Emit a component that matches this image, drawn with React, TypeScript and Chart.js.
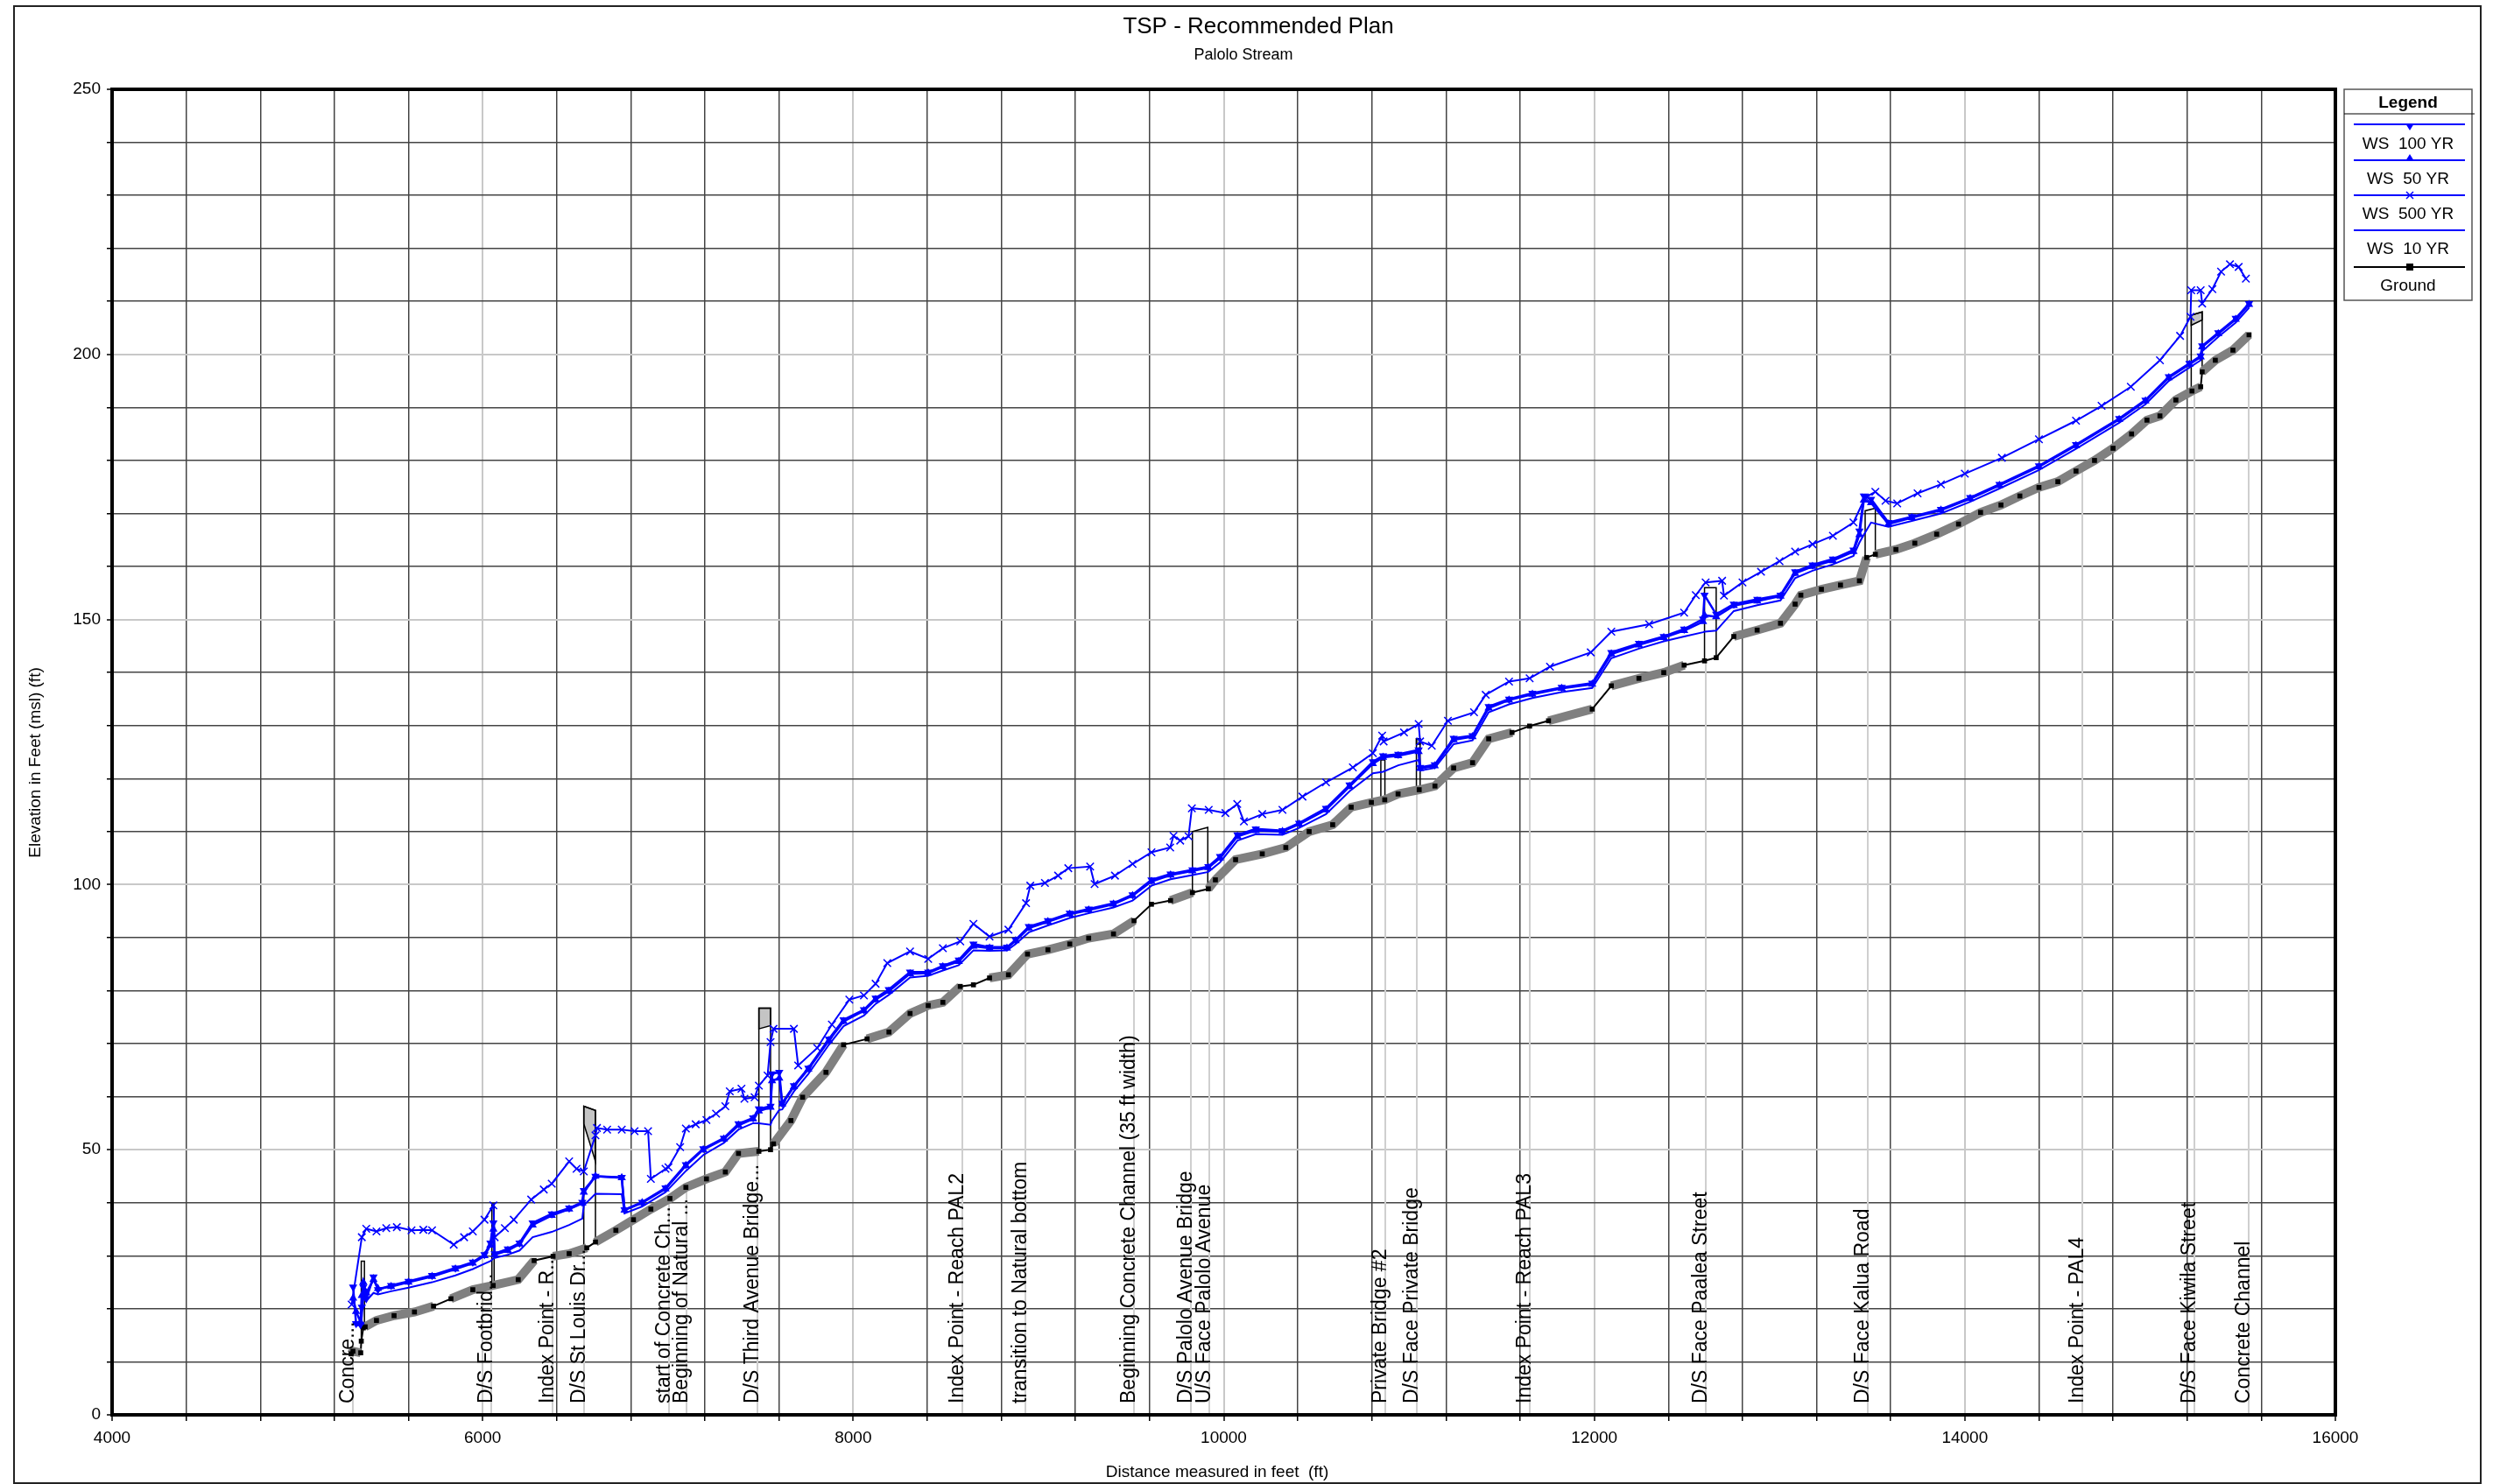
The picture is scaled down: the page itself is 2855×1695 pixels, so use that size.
import React, { useEffect, useRef } from 'react';
import { Chart, registerables } from 'chart.js';
Chart.register(...registerables);

const W = 2855;
const H = 1695;
const FONT = '"Liberation Sans", Arial, sans-serif';

// ---------- data ----------
const groundX = [5290, 5300, 5342, 5345, 5356, 5366, 5427, 5522, 5632, 5735, 5829, 5947, 6057, 6192, 6278, 6380, 6467, 6562, 6609, 6719, 6814, 6908, 7011, 7097, 7208, 7310, 7381, 7491, 7554, 7570, 7664, 7727, 7853, 7948, 8075, 8193, 8307, 8405, 8484, 8578, 8649, 8736, 8838, 8941, 9051, 9169, 9271, 9405, 9516, 9610, 9713, 9831, 9917, 9955, 10064, 10208, 10335, 10461, 10588, 10688, 10797, 10869, 10941, 11055, 11140, 11241, 11343, 11430, 11556, 11651, 11753, 11989, 12092, 12241, 12375, 12485, 12595, 12658, 12753, 12879, 13005, 13084, 13115, 13226, 13329, 13431, 13470, 13517, 13628, 13730, 13848, 13966, 14085, 14195, 14297, 14400, 14502, 14600, 14700, 14800, 14900, 14983, 15053, 15139, 15226, 15273, 15281, 15352, 15447, 15534];
const groundY = [11.5, 12.0, 11.7, 13.9, 16.4, 16.6, 17.8, 18.7, 19.4, 20.5, 21.9, 23.6, 24.4, 25.5, 29.1, 29.9, 30.4, 31.5, 32.6, 34.8, 36.8, 38.8, 40.8, 42.9, 44.5, 45.8, 49.3, 49.7, 50.0, 51.1, 55.5, 59.9, 64.6, 69.8, 70.9, 72.2, 75.7, 77.2, 77.8, 80.8, 81.1, 82.4, 83.0, 86.9, 87.7, 88.8, 89.9, 90.7, 93.2, 96.3, 97.0, 98.5, 99.2, 100.9, 104.7, 105.8, 107.0, 110.0, 111.3, 114.6, 115.5, 116.0, 117.1, 117.9, 118.6, 122.0, 123.0, 127.5, 128.7, 129.9, 130.9, 133.1, 137.5, 138.9, 140.0, 141.4, 142.2, 142.8, 146.8, 148.0, 149.3, 152.9, 154.6, 155.7, 156.5, 157.3, 161.7, 162.3, 163.2, 164.4, 166.1, 168.0, 170.2, 171.6, 173.3, 174.9, 176.0, 178.0, 180.0, 182.3, 185.0, 187.6, 188.4, 191.4, 193.1, 193.9, 196.7, 198.9, 200.8, 203.7];
// stretches of the ground drawn as a thin line only (no grey band)
const thinFrom = [5342, 5735, 6278, 6562, 7491, 7948, 8578, 9516, 9831, 11556, 11989, 12485, 13470, 15273];
const thinTo = [5366, 5829, 6380, 6609, 7570, 8075, 8736, 9713, 9917, 11753, 12092, 12753, 13517, 15281];

const ws500X = [5293, 5348, 5372, 5427, 5480, 5537, 5616, 5680, 5727, 5844, 5900, 5947, 6010, 6058, 6065, 6120, 6168, 6262, 6330, 6373, 6467, 6507, 6546, 6609, 6617, 6672, 6751, 6820, 6893, 6908, 6987, 7003, 7066, 7097, 7150, 7208, 7260, 7310, 7334, 7397, 7413, 7468, 7491, 7538, 7554, 7570, 7680, 7703, 7806, 7885, 7979, 8058, 8121, 8184, 8307, 8405, 8484, 8578, 8649, 8736, 8838, 8933, 8956, 9035, 9106, 9161, 9279, 9303, 9413, 9508, 9610, 9711, 9729, 9765, 9810, 9828, 9919, 10009, 10073, 10109, 10208, 10317, 10425, 10552, 10697, 10805, 10855, 10863, 10973, 11052, 11060, 11123, 11210, 11351, 11414, 11540, 11651, 11761, 11981, 12092, 12296, 12485, 12548, 12601, 12690, 12700, 12800, 12900, 13000, 13084, 13178, 13288, 13399, 13462, 13517, 13572, 13635, 13745, 13871, 14000, 14200, 14400, 14600, 14738, 14896, 15053, 15162, 15218, 15222, 15273, 15281, 15336, 15383, 15431, 15478, 15517];
const ws500Y = [20.8, 33.5, 35.1, 34.6, 35.2, 35.4, 34.8, 34.9, 34.8, 32.1, 33.5, 34.6, 36.8, 39.5, 33.5, 35.2, 36.8, 40.6, 42.5, 43.6, 47.8, 46.4, 45.9, 52.7, 54.1, 53.8, 53.8, 53.5, 53.5, 44.5, 46.4, 46.7, 50.5, 54.0, 54.8, 55.6, 56.8, 58.2, 61.0, 61.5, 59.6, 59.9, 62.1, 64.0, 70.3, 72.8, 72.8, 65.9, 69.2, 73.6, 78.3, 79.1, 81.3, 85.2, 87.4, 86.0, 88.0, 89.3, 92.6, 90.2, 91.5, 96.5, 99.8, 100.3, 101.7, 103.1, 103.4, 100.1, 101.7, 103.9, 106.1, 107.0, 109.2, 108.3, 109.1, 114.4, 114.1, 113.5, 115.2, 111.9, 113.3, 114.1, 116.6, 119.3, 122.1, 124.8, 128.1, 127.0, 128.7, 130.3, 127.0, 126.2, 130.9, 132.5, 135.8, 138.3, 138.9, 141.1, 143.8, 147.7, 149.1, 151.3, 154.6, 157.0, 157.3, 154.5, 157.0, 159.0, 161.0, 162.8, 164.2, 165.8, 168.3, 173.0, 174.1, 172.4, 171.9, 173.8, 175.5, 177.5, 180.5, 184.0, 187.5, 190.3, 193.9, 198.9, 203.5, 207.1, 212.1, 212.1, 209.6, 212.3, 215.6, 217.0, 216.5, 214.3];

const wsStations = [5301, 5317, 5341, 5348, 5356, 5372, 5411, 5435, 5506, 5600, 5727, 5853, 5947, 6010, 6042, 6058, 6065, 6136, 6199, 6270, 6373, 6467, 6538, 6546, 6609, 6751, 6766, 6861, 6987, 7097, 7191, 7302, 7381, 7460, 7491, 7554, 7562, 7601, 7617, 7680, 7758, 7869, 7948, 8058, 8121, 8192, 8307, 8405, 8484, 8570, 8649, 8736, 8830, 8877, 8948, 9051, 9169, 9271, 9405, 9508, 9610, 9713, 9831, 9917, 9980, 10074, 10173, 10317, 10407, 10552, 10679, 10805, 10860, 10942, 11052, 11060, 11139, 11241, 11343, 11430, 11540, 11666, 11824, 11989, 12092, 12241, 12375, 12485, 12587, 12595, 12658, 12753, 12880, 13005, 13084, 13178, 13288, 13399, 13431, 13455, 13494, 13588, 13714, 13871, 14029, 14187, 14400, 14600, 14833, 14975, 15101, 15212, 15273, 15281, 15368, 15462, 15534];
const ws100Y = [24.1, 17.2, 17.0, 20.3, 24.1, 21.9, 26.0, 23.6, 24.4, 25.2, 26.3, 27.7, 28.8, 30.2, 32.4, 36.2, 30.4, 31.3, 32.4, 36.2, 37.9, 39.0, 40.1, 42.3, 45.0, 44.8, 38.7, 40.1, 42.8, 47.2, 50.2, 52.2, 54.9, 56.0, 57.7, 58.2, 64.3, 64.6, 58.8, 62.1, 65.4, 70.9, 74.5, 76.4, 78.6, 80.2, 83.5, 83.5, 84.7, 85.8, 88.8, 88.2, 88.2, 89.6, 92.1, 93.2, 94.6, 95.4, 96.5, 98.1, 100.9, 102.0, 102.8, 103.4, 105.3, 109.4, 110.5, 110.2, 111.6, 114.4, 118.8, 123.2, 124.3, 124.6, 125.4, 122.1, 122.6, 127.6, 128.1, 133.6, 135.0, 136.1, 137.2, 138.0, 143.8, 145.5, 146.8, 148.2, 150.1, 154.6, 151.0, 152.9, 153.8, 154.6, 159.0, 160.3, 161.4, 163.1, 166.7, 173.3, 172.7, 168.3, 169.4, 170.8, 173.0, 175.5, 179.0, 183.0, 187.9, 191.4, 195.8, 198.3, 199.7, 201.6, 204.1, 206.8, 209.6];
const ws50Y = [22.0, 19.5, 17.5, 22.5, 25.0, 23.0, 25.5, 23.8, 24.2, 25.0, 26.1, 27.5, 28.6, 30.0, 32.0, 35.0, 30.2, 31.0, 32.2, 35.8, 37.6, 38.8, 39.9, 42.0, 45.0, 44.7, 38.6, 40.0, 42.6, 47.0, 50.0, 52.0, 54.6, 55.8, 57.3, 58.0, 63.0, 63.5, 58.6, 61.9, 65.2, 70.6, 74.2, 76.2, 78.3, 79.9, 83.2, 83.3, 84.5, 85.5, 88.4, 88.0, 88.0, 89.4, 91.8, 93.0, 94.4, 95.2, 96.3, 97.9, 100.6, 101.8, 102.6, 103.2, 105.0, 109.1, 110.2, 110.0, 111.4, 114.1, 118.5, 122.8, 124.0, 124.3, 125.1, 121.9, 122.4, 127.3, 127.9, 133.3, 134.8, 135.9, 137.0, 137.8, 143.5, 145.2, 146.6, 147.9, 149.6, 150.8, 150.5, 152.6, 153.5, 154.4, 158.7, 160.0, 161.1, 162.8, 166.0, 172.5, 172.0, 168.0, 169.2, 170.6, 172.8, 175.3, 178.8, 182.8, 187.7, 191.2, 195.6, 198.1, 199.5, 201.4, 203.9, 206.6, 209.4];
const ws10Y = [17.5, 16.8, 17.0, 18.5, 22.0, 21.5, 23.0, 22.7, 23.3, 24.0, 25.0, 26.3, 27.5, 28.5, 29.0, 29.5, 29.6, 30.2, 31.0, 33.5, 34.5, 35.8, 37.0, 39.5, 41.7, 41.6, 38.0, 39.3, 42.0, 46.0, 49.0, 51.3, 53.8, 55.0, 55.0, 54.7, 55.5, 57.5, 57.6, 61.0, 64.3, 69.8, 73.3, 75.3, 77.5, 79.2, 82.5, 82.8, 83.8, 84.8, 87.6, 87.5, 87.6, 88.8, 91.0, 92.3, 93.7, 94.6, 95.7, 97.0, 99.8, 101.0, 101.8, 102.4, 104.2, 108.3, 109.5, 109.4, 110.7, 113.3, 117.6, 121.0, 121.3, 122.5, 123.5, 121.5, 122.0, 126.5, 127.2, 132.5, 134.0, 135.2, 136.3, 137.1, 142.7, 144.5, 145.9, 146.8, 147.6, 147.7, 147.9, 151.6, 152.7, 153.6, 157.8, 159.2, 160.4, 162.0, 164.5, 166.0, 168.3, 167.5, 168.6, 170.0, 172.2, 174.7, 178.2, 182.2, 187.1, 190.6, 195.0, 197.5, 198.9, 200.6, 203.3, 206.0, 208.8];

// bridges: left/right stations, deck top and low chord elevations
const bridgeL = [5345, 6050, 6546, 7491, 9831, 10848, 11040, 12595, 13462, 15222];
const bridgeR = [5362, 6062, 6609, 7554, 9914, 10870, 11060, 12658, 13517, 15281];
const bridgeTopL = [29.0, 39.8, 58.2, 76.7, 110.0, 123.5, 127.5, 156.0, 170.5, 207.4];
const bridgeTopR = [29.0, 39.8, 57.4, 76.7, 110.8, 123.5, 127.5, 156.0, 171.0, 208.0];
const bridgeLowL = [29.0, 39.8, 54.9, 72.8, 110.0, 123.5, 126.5, 156.0, 170.5, 205.5];
const bridgeLowR = [29.0, 39.8, 47.8, 73.4, 110.8, 123.5, 126.5, 156.0, 171.0, 206.5];

const rsNames = ['Concre...', 'D/S Footbrid...', 'Index Point - R...', 'D/S St Louis Dr...', 'start of Concrete Ch...', 'Beginning of Natural ...', 'D/S Third Avenue Bridge...', 'Index Point - Reach PAL2', 'transition to Natural bottom', 'Beginning Concrete Channel (35 ft width)', 'D/S Palolo Avenue Bridge', 'U/S Face Palolo Avenue', 'Private Bridge #2', 'D/S Face Private Bridge', 'Index Point - Reach PAL3', 'D/S Face Paalea Street', 'D/S Face Kalua Road', 'Index Point - PAL4', 'D/S Face Kiwila Street', 'Concrete Channel'];
const rsStations = [5300, 6046, 6377, 6547, 7006, 7100, 7483, 8587, 8929, 9515, 9822, 9922, 10872, 11042, 11651, 12600, 13475, 14635, 15240, 15534];

const xTickLabels = [4000, 6000, 8000, 10000, 12000, 14000, 16000];
const yTickLabels = [0, 50, 100, 150, 200, 250];

const legendNames = ['WS  100 YR', 'WS  50 YR', 'WS  500 YR', 'WS  10 YR', 'Ground'];

// ---------- helpers ----------
const pts = (xs: number[], ys: number[]) => xs.map((x, i) => ({ x, y: ys[i] }));
function groundAt(x: number): number {
  if (x <= groundX[0]) return groundY[0];
  for (let i = 1; i < groundX.length; i++) {
    if (x <= groundX[i]) {
      const t = (x - groundX[i - 1]) / (groundX[i] - groundX[i - 1] || 1);
      return groundY[i - 1] + t * (groundY[i] - groundY[i - 1]);
    }
  }
  return groundY[groundY.length - 1];
}
function isThin(a: number, b: number) {
  for (let i = 0; i < thinFrom.length; i++) if (a >= thinFrom[i] - 0.1 && b <= thinTo[i] + 0.1) return true;
  return false;
}

const BLUE = '#0000ff';

const decor = {
  id: 'decor',
  beforeDatasetsDraw(chart: any) {
    const { ctx, chartArea: a, scales } = chart;
    const xs = scales.x, ys = scales.y;
    ctx.save();
    ctx.beginPath();
    ctx.rect(a.left, a.top, a.right - a.left, a.bottom - a.top);
    ctx.clip();
    // river station lines
    ctx.strokeStyle = '#cfcfcf';
    ctx.lineWidth = 2;
    rsStations.forEach((s) => {
      const px = Math.round(xs.getPixelForValue(s));
      ctx.beginPath();
      ctx.moveTo(px, a.bottom);
      ctx.lineTo(px, ys.getPixelForValue(groundAt(s)));
      ctx.stroke();
    });
    // bridges
    bridgeL.forEach((l, i) => {
      const r = bridgeR[i];
      const xl = xs.getPixelForValue(l), xr = xs.getPixelForValue(r);
      const tl = ys.getPixelForValue(bridgeTopL[i]), tr = ys.getPixelForValue(bridgeTopR[i]);
      const ll = ys.getPixelForValue(bridgeLowL[i]), lr = ys.getPixelForValue(bridgeLowR[i]);
      if (bridgeLowL[i] < bridgeTopL[i]) {
        ctx.fillStyle = '#c4c4c4';
        ctx.beginPath();
        ctx.moveTo(xl, tl); ctx.lineTo(xr, tr); ctx.lineTo(xr, lr); ctx.lineTo(xl, ll); ctx.closePath();
        ctx.fill();
        ctx.strokeStyle = '#000'; ctx.lineWidth = 1.5; ctx.stroke();
      }
      ctx.strokeStyle = '#000';
      ctx.lineWidth = 1.5;
      ctx.beginPath();
      ctx.moveTo(xl, ys.getPixelForValue(groundAt(l)));
      ctx.lineTo(xl, tl);
      ctx.lineTo(xr, tr);
      ctx.lineTo(xr, ys.getPixelForValue(groundAt(r)));
      ctx.stroke();
    });
    ctx.restore();
  },
  afterDatasetsDraw(chart: any) {
    const { ctx, chartArea: a, scales } = chart;
    const xs = scales.x;
    ctx.save();
    // station labels
    ctx.fillStyle = '#000';
    ctx.font = `23px ${FONT}`;
    ctx.textAlign = 'left';
    ctx.textBaseline = 'alphabetic';
    rsNames.forEach((name, i) => {
      const px = xs.getPixelForValue(rsStations[i]);
      ctx.save();
      ctx.translate(px + 1, 1603);
      ctx.rotate(-Math.PI / 2);
      ctx.fillText(name, 0, 0);
      ctx.restore();
    });
    // plot frame
    ctx.strokeStyle = '#000';
    ctx.lineWidth = 4;
    ctx.strokeRect(a.left, a.top, a.right - a.left, a.bottom - a.top);
    // outer frame
    ctx.lineWidth = 2;
    ctx.strokeStyle = '#222';
    ctx.strokeRect(16, 7, 2817, 1687);
    // titles
    ctx.fillStyle = '#000';
    ctx.textAlign = 'center';
    ctx.font = `26px ${FONT}`;
    ctx.fillText('TSP - Recommended Plan', 1437, 38);
    ctx.font = `18px ${FONT}`;
    ctx.fillText('Palolo Stream', 1420, 68);
    ctx.font = `19px ${FONT}`;
    ctx.fillText('Distance measured in feet  (ft)', 1390, 1687);
    ctx.save();
    ctx.translate(46, 871);
    ctx.rotate(-Math.PI / 2);
    ctx.fillText('Elevation in Feet (msl) (ft)', 0, 0);
    ctx.restore();
    // legend
    const lx = 2677, ly = 102, lw = 146, lh = 241;
    ctx.strokeStyle = '#555';
    ctx.lineWidth = 1.5;
    ctx.strokeRect(lx, ly, lw, lh);
    ctx.strokeStyle = '#000';
    ctx.lineWidth = 1;
    ctx.beginPath(); ctx.moveTo(lx, 130); ctx.lineTo(2826, 130); ctx.stroke();
    ctx.font = `bold 19px ${FONT}`;
    ctx.fillText('Legend', 2750, 123);
    ctx.font = `19px ${FONT}`;
    const lineYs = [142, 183, 223, 263, 305];
    const textYs = [170, 210, 250, 290, 332];
    legendNames.forEach((n, i) => {
      const y = lineYs[i];
      const col = i === 4 ? '#000' : BLUE;
      ctx.strokeStyle = col;
      ctx.fillStyle = col;
      ctx.lineWidth = 2;
      ctx.beginPath(); ctx.moveTo(2688, y); ctx.lineTo(2815, y); ctx.stroke();
      const cx = 2752;
      if (i === 0) { ctx.beginPath(); ctx.moveTo(cx - 5, y - 1); ctx.lineTo(cx + 5, y - 1); ctx.lineTo(cx, y + 7); ctx.closePath(); ctx.fill(); }
      if (i === 1) { ctx.beginPath(); ctx.moveTo(cx - 5, y + 1); ctx.lineTo(cx + 5, y + 1); ctx.lineTo(cx, y - 7); ctx.closePath(); ctx.fill(); }
      if (i === 2) { ctx.lineWidth = 1.5; ctx.beginPath(); ctx.moveTo(cx - 4, y - 4); ctx.lineTo(cx + 4, y + 4); ctx.moveTo(cx + 4, y - 4); ctx.lineTo(cx - 4, y + 4); ctx.stroke(); }
      if (i === 4) { ctx.fillRect(cx - 4, y - 4, 8, 8); }
      ctx.fillStyle = '#000';
      ctx.fillText(n, 2750, textYs[i]);
    });
    ctx.restore();
  },
};

export default function App() {
  const ref = useRef<HTMLCanvasElement>(null);
  useEffect(() => {
    const canvas = ref.current;
    if (!canvas) return;
    const groundPts = pts(groundX, groundY);
    const chart = new Chart(canvas, {
      type: 'line',
      data: {
        datasets: [
          { label: 'WS 100 YR', data: pts(wsStations, ws100Y), borderColor: BLUE, backgroundColor: BLUE, borderWidth: 2.5, pointStyle: 'triangle', rotation: 180, pointRadius: 5.5, pointBorderWidth: 0, pointBackgroundColor: BLUE, tension: 0 } as any,
          { label: 'WS 50 YR', data: pts(wsStations, ws50Y), borderColor: BLUE, backgroundColor: BLUE, borderWidth: 2.5, pointStyle: 'triangle', pointRadius: 5.5, pointBorderWidth: 0, pointBackgroundColor: BLUE, tension: 0 } as any,
          { label: 'WS 500 YR', data: pts(ws500X, ws500Y), borderColor: BLUE, borderWidth: 2, pointStyle: 'crossRot', pointRadius: 6, pointBorderWidth: 1.5, pointBorderColor: BLUE, tension: 0 } as any,
          { label: 'WS 10 YR', data: pts(wsStations, ws10Y), borderColor: BLUE, borderWidth: 2, pointRadius: 0, tension: 0 } as any,
          // ground markers on top of the grey band
          { label: 'Ground', data: groundPts, showLine: false, pointStyle: 'rect', pointRadius: 4, pointBorderWidth: 0, pointBackgroundColor: '#000', borderColor: '#000' } as any,
          {
            label: 'band', data: groundPts, borderColor: '#808080', borderWidth: 10, pointRadius: 0, tension: 0, borderCapStyle: 'butt',
            segment: { borderColor: (c: any) => (isThin(c.p0.parsed.x, c.p1.parsed.x) ? 'rgba(0,0,0,0)' : '#808080') },
          } as any,
          { label: 'Ground line', data: groundPts, borderColor: '#000', borderWidth: 2, pointRadius: 0, tension: 0 } as any,
        ],
      },
      options: {
        responsive: false,
        animation: false,
        devicePixelRatio: 1,
        layout: { padding: { left: 0, right: W - 2667, top: 102, bottom: 0 } },
        plugins: { legend: { display: false }, tooltip: { enabled: false }, title: { display: false } },
        events: [],
        scales: {
          x: {
            type: 'linear', min: 4000, max: 16000,
            afterFit: (s: any) => { s.height = H - 1616; },
            border: { display: false },
            grid: {
              color: (c: any) => (c.tick && c.tick.value % 2000 === 0 ? '#c8c8c8' : '#444'),
              lineWidth: (c: any) => (c.tick && c.tick.value % 2000 === 0 ? 2 : 1.5),
              tickColor: '#000', tickLength: 7, tickWidth: 1.5,
            },
            ticks: {
              stepSize: 400, autoSkip: false, maxRotation: 0, padding: 8, color: '#000',
              font: { family: FONT, size: 19 },
              callback: (v: any) => (xTickLabels.includes(Number(v)) ? String(v) : ''),
            },
          },
          y: {
            type: 'linear', min: 0, max: 250,
            afterFit: (s: any) => { s.width = 128; },
            border: { display: false },
            grid: {
              color: (c: any) => (c.tick && c.tick.value % 50 === 0 ? '#c8c8c8' : '#444'),
              lineWidth: (c: any) => (c.tick && c.tick.value % 50 === 0 ? 2 : 1.5),
              tickColor: '#000', tickLength: 6, tickWidth: 1.5,
            },
            ticks: {
              stepSize: 10, autoSkip: false, padding: 7, color: '#000',
              font: { family: FONT, size: 19 },
              callback: (v: any) => (yTickLabels.includes(Number(v)) ? String(v) : ''),
            },
          },
        },
      } as any,
      plugins: [decor],
    });
    return () => chart.destroy();
  }, []);
  return (
    <div style={{ position: 'fixed', left: 0, top: 0, width: W, height: H, background: '#fff', overflow: 'hidden' }}>
      <canvas ref={ref} width={W} height={H} style={{ width: W, height: H, display: 'block' }} />
    </div>
  );
}
